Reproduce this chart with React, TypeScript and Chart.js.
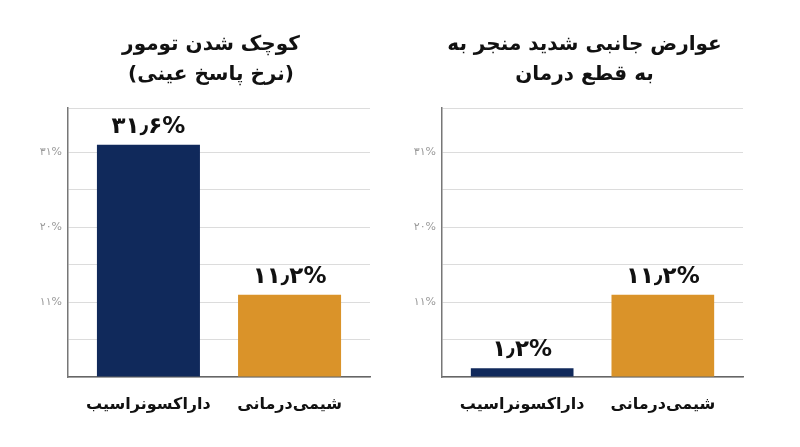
import React, { useEffect, useRef } from 'react';
import { Chart, registerables, Plugin } from 'chart.js';

Chart.register(...registerables);

// categories and values
const categories = ['داراکسونراسیب', 'شیمی‌درمانی'];
const tumourValues = [31.6, 11.2];
const tumourLabels = ['۳۱٫۶%', '۱۱٫۲%'];
const sideEffectValues = [1.2, 11.2];
const sideEffectLabels = ['۱٫۲%', '۱۱٫۲%'];
const tumourTitle = ['کوچک شدن تومور', '(نرخ پاسخ عینی)'];
const sideEffectTitle = ['عوارض جانبی شدید منجر به', 'به قطع درمان'];

// gridlines and the (odd) tick texts printed on the axis
const gridValues = [0, 5.1, 10.2, 15.3, 20.4, 25.5, 30.6, 36.6];
const labelledTicks = [10.2, 20.4, 30.6];
const tickTexts = ['۱۱%', '۲۰%', '۳۱%'];

const barColors = ['#10295b', '#da9329'];
const FONT = "'DejaVu Sans', sans-serif";

const titlePlugin: Plugin<'bar'> = {
  id: 'panelTitle',
  afterDraw(chart) {
    const lines: string[] = (chart.options.plugins as any).panelTitle?.lines || [];
    const { ctx, chartArea } = chart;
    const cx = (chartArea.left + chartArea.right) / 2 - 8;
    ctx.save();
    ctx.font = `bold 20px ${FONT}`;
    ctx.fillStyle = '#111';
    ctx.textAlign = 'center';
    ctx.textBaseline = 'middle';
    lines.forEach((line, i) => ctx.fillText(line, cx, 45 + i * 30));
    ctx.restore();
  },
};

const valuePlugin: Plugin<'bar'> = {
  id: 'barValues',
  afterDatasetsDraw(chart) {
    const labels: string[] = (chart.options.plugins as any).barValues?.labels || [];
    const { ctx } = chart;
    const meta = chart.getDatasetMeta(0);
    ctx.save();
    ctx.font = `bold 23px ${FONT}`;
    ctx.fillStyle = '#111';
    ctx.textAlign = 'center';
    ctx.textBaseline = 'middle';
    meta.data.forEach((bar: any, i: number) => {
      ctx.fillText(labels[i], bar.x, bar.y - 18);
    });
    ctx.restore();
  },
};

interface PanelProps {
  values: number[];
  labels: string[];
  title: string[];
  axisWidth: number;
  rightPad: number;
}

const Panel: React.FC<PanelProps> = ({ values, labels, title, axisWidth, rightPad }) => {
  const canvasRef = useRef<HTMLCanvasElement>(null);

  useEffect(() => {
    if (!canvasRef.current) return;
    const chart = new Chart(canvasRef.current, {
      type: 'bar',
      data: {
        datasets: [{
          data: values.map((v, i) => ({ x: i, y: v })),
          backgroundColor: barColors,
          barPercentage: 0.73,
          categoryPercentage: 1,
        }],
      },
      options: {
        animation: false,
        responsive: true,
        maintainAspectRatio: false,
        layout: { padding: { top: 108, left: 0, right: rightPad, bottom: 0 } },
        scales: {
          x: {
            type: 'linear',
            min: -0.57,
            max: 1.57,
            offset: false,
            grid: { display: false },
            border: { color: '#666', width: 1.5 },
            afterBuildTicks: (scale) => {
              scale.ticks = categories.map((_, i) => ({ value: i }));
            },
            ticks: {
              color: '#111',
              padding: 10,
              font: { family: FONT, size: 16, weight: 'bold' },
              callback: (value) => categories[value as number] ?? '',
            },
            afterFit: (scale) => { scale.height = 70; },
          },
          y: {
            min: 0,
            max: 36.6,
            afterBuildTicks: (scale) => {
              scale.ticks = gridValues.map((v) => ({ value: v }));
            },
            afterFit: (scale) => { scale.width = axisWidth; },
            grid: { color: '#dcdcdc', drawTicks: false },
            border: { color: '#777', width: 1.5 },
            ticks: {
              color: '#9a9a9a',
              padding: 6,
              font: { family: FONT, size: 11 },
              callback: (value) => {
                const i = labelledTicks.indexOf(value as number);
                return i >= 0 ? tickTexts[i] : '';
              },
            },
          },
        },
        plugins: {
          legend: { display: false },
          tooltip: { enabled: false },
          panelTitle: { lines: title },
          barValues: { labels },
        } as any,
      },
      plugins: [titlePlugin, valuePlugin],
    });
    return () => chart.destroy();
  }, []);

  return (
    <div style={{ position: 'relative', width: 400, height: 447 }}>
      <canvas ref={canvasRef} />
    </div>
  );
};

const App: React.FC = () => {
  useEffect(() => {
    document.body.style.margin = '0';
  }, []);

  return (
    <div style={{ display: 'flex', width: 800, height: 447, background: '#fff' }}>
      <Panel values={tumourValues} labels={tumourLabels} title={tumourTitle} axisWidth={68} rightPad={30} />
      <Panel values={sideEffectValues} labels={sideEffectLabels} title={sideEffectTitle} axisWidth={42} rightPad={57} />
    </div>
  );
};

export default App;
